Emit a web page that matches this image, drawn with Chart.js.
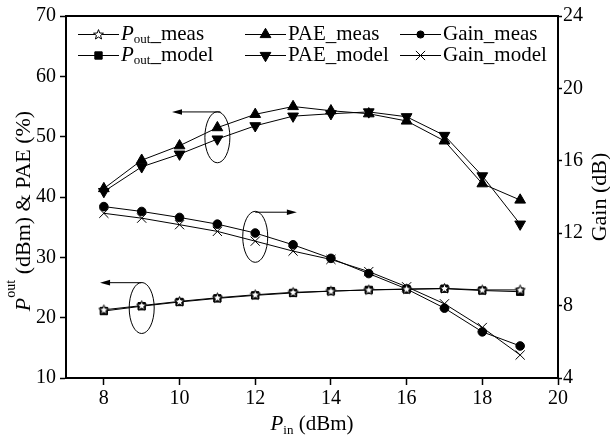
<!DOCTYPE html>
<html>
<head>
<meta charset="utf-8">
<script src="https://cdn.jsdelivr.net/npm/chart.js@4/dist/chart.umd.min.js"></script>
<style>
  body { margin: 0; background: #fff; }
  canvas { display: block; }
</style>
</head>
<body>
<canvas id="chart" width="610" height="441"></canvas>
<script>
// input power (dBm)
const pin = [8, 9, 10, 11, 12, 13, 14, 15, 16, 17, 18, 19];

const poutMeas  = [21.3, 22.0, 22.7, 23.3, 23.8, 24.2, 24.4, 24.6, 24.75, 24.85, 24.6, 24.6];
const poutModel = [21.1, 21.9, 22.6, 23.2, 23.7, 24.1, 24.4, 24.6, 24.7, 24.8, 24.5, 24.3];
const paeMeas   = [41.4, 46.1, 48.5, 51.5, 53.7, 55.0, 54.3, 53.8, 52.6, 49.3, 42.2, 39.5];
const paeModel  = [40.9, 45.0, 47.1, 49.6, 51.8, 53.4, 53.8, 54.1, 53.3, 50.2, 43.5, 35.5];
const gainMeas  = [13.47, 13.2, 12.87, 12.5, 12.01, 11.36, 10.61, 9.77, 8.92, 7.86, 6.55, 5.77];
const gainModel = [13.1, 12.83, 12.47, 12.1, 11.56, 11.01, 10.55, 9.88, 9.04, 8.1, 6.79, 5.27];

const seriesNames = ["P_out_meas", "P_out_model", "PAE_meas", "PAE_model", "Gain_meas", "Gain_model"];

const xTicks = [8, 10, 12, 14, 16, 18, 20];
const yTicks = [10, 20, 30, 40, 50, 60, 70];
const gainTicks = [4, 8, 12, 16, 20, 24];

// ellipse marks around the curves and the arrows pointing at their axis
const rings = [
  { x: 11, y: 49.9, axis: "y" },
  { x: 12, y: 11.8, axis: "y1" },
  { x: 9, y: 21.6, axis: "y" }
];
const arrows = [
  { from: 11.08, to: 9.8, y: 54.1, axis: "y" },
  { from: 12.0, to: 13.1, y: 13.16, axis: "y1" },
  { from: 9.0, to: 7.9, y: 25.8, axis: "y" }
];

const FONT = "'Liberation Serif', 'Times New Roman', serif";

// hollow star marker
function makeStar() {
  let c = document.createElement("canvas");
  c.width = 13;
  c.height = 13;
  let g = c.getContext("2d");
  g.beginPath();
  for (let i = 0; i < 10; i++) {
    let r = i % 2 === 0 ? 5.2 : 2.2;
    let a = -Math.PI / 2 + (i * Math.PI) / 5;
    g.lineTo(6.5 + r * Math.cos(a), 6.8 + r * Math.sin(a));
  }
  g.closePath();
  g.fillStyle = "#fff";
  g.fill();
  g.lineWidth = 1;
  g.strokeStyle = "#000";
  g.stroke();
  return c;
}
const star = makeStar();

function pts(ys) {
  return pin.map((x, i) => ({ x: x, y: ys[i] }));
}

function series(i, ys, axis, style, extra) {
  return Object.assign({
    label: seriesNames[i],
    data: pts(ys),
    yAxisID: axis,
    borderColor: "#000",
    borderWidth: 1,
    backgroundColor: "#000",
    pointBackgroundColor: "#000",
    pointBorderColor: "#000",
    pointBorderWidth: 1,
    pointStyle: style,
    fill: false,
    tension: 0
  }, extra);
}

// draws "P_out_meas" style text with a small shifted "out"/"in"
function richParts(name) {
  if (name.startsWith("P_out")) {
    return [{ t: "P", it: true }, { t: "out", small: true }, { t: name.slice(5) }];
  }
  return [{ t: name }];
}

function drawRich(ctx, parts, x, y, size, shift) {
  let cx = x;
  parts.forEach((p) => {
    let s = p.small ? Math.round(size * 0.62) : size;
    ctx.font = (p.it ? "italic " : "") + s + "px " + FONT;
    ctx.fillText(p.t, cx, p.small ? y + shift : y);
    cx += ctx.measureText(p.t).width;
  });
  return cx - x;
}

function richWidth(ctx, parts, size) {
  let w = 0;
  parts.forEach((p) => {
    let s = p.small ? Math.round(size * 0.62) : size;
    ctx.font = (p.it ? "italic " : "") + s + "px " + FONT;
    w += ctx.measureText(p.t).width;
  });
  return w;
}

const decorations = {
  id: "decorations",
  afterDraw(chart) {
    let ctx = chart.ctx;
    let area = chart.chartArea;
    let xs = chart.scales.x;
    ctx.save();
    ctx.fillStyle = "#000";
    ctx.strokeStyle = "#000";

    // top frame line
    ctx.lineWidth = 2;
    ctx.beginPath();
    ctx.moveTo(area.left - 1, area.top);
    ctx.lineTo(area.right + 1, area.top);
    ctx.stroke();

    // ellipses
    ctx.lineWidth = 1;
    rings.forEach((r) => {
      let px = xs.getPixelForValue(r.x);
      let py = chart.scales[r.axis].getPixelForValue(r.y);
      ctx.beginPath();
      ctx.ellipse(px, py, 12.5, 25.5, 0, 0, Math.PI * 2);
      ctx.stroke();
    });

    // arrows
    arrows.forEach((a) => {
      let x0 = xs.getPixelForValue(a.from);
      let x1 = xs.getPixelForValue(a.to);
      let py = chart.scales[a.axis].getPixelForValue(a.y);
      let dir = x1 > x0 ? 1 : -1;
      ctx.beginPath();
      ctx.moveTo(x0, py);
      ctx.lineTo(x1 - dir * 8, py);
      ctx.stroke();
      ctx.beginPath();
      ctx.moveTo(x1, py);
      ctx.lineTo(x1 - dir * 10, py - 2.8);
      ctx.lineTo(x1 - dir * 10, py + 2.8);
      ctx.closePath();
      ctx.fill();
    });

    // legend, 3 columns x 2 rows
    let cols = [78, 245, 400];
    let rows = [34.5, 55.5];
    let order = [[0, 2, 4], [1, 3, 5]];
    ctx.textBaseline = "alphabetic";
    ctx.textAlign = "left";
    order.forEach((row, ri) => {
      row.forEach((di, ci) => {
        let x = cols[ci];
        let y = rows[ri];
        ctx.lineWidth = 1;
        ctx.beginPath();
        ctx.moveTo(x, y);
        ctx.lineTo(x + 41, y);
        ctx.stroke();
        let el = chart.getDatasetMeta(di).data[0];
        let o = Object.assign({}, el.options);
        o.radius = o.pointStyle === "circle" ? 3.6 : o.radius;
        Chart.helpers.drawPoint(ctx, o, x + 20.5, y);
        ctx.fillStyle = "#000";
        drawRich(ctx, richParts(seriesNames[di]), x + 43, y + 5.5, 21, 3);
      });
    });

    // x axis title
    let xt = [{ t: "P", it: true }, { t: "in", small: true }, { t: " (dBm)" }];
    let w = richWidth(ctx, xt, 21);
    drawRich(ctx, xt, (area.left + area.right) / 2 - w / 2, 430, 21, 4);

    // left axis title
    let lt = [{ t: "P", it: true }, { t: "out", small: true }, { t: " (dBm) & PAE (%)" }];
    let lw = richWidth(ctx, lt, 22);
    ctx.save();
    ctx.translate(30, 211 + lw / 2);
    ctx.rotate(-Math.PI / 2);
    drawRich(ctx, lt, 0, 0, 22, -15);
    ctx.restore();

    // right axis title
    let rt = [{ t: "Gain (dB)" }];
    let rw = richWidth(ctx, rt, 22);
    ctx.save();
    ctx.translate(606, 197 + rw / 2);
    ctx.rotate(-Math.PI / 2);
    drawRich(ctx, rt, 0, 0, 22, 0);
    ctx.restore();

    ctx.restore();
  }
};

function fixedTicks(list) {
  return (scale) => {
    scale.ticks = list.map((v) => ({ value: v }));
  };
}

let tickFont = { family: FONT, size: 20 };

new Chart(document.getElementById("chart"), {
  type: "line",
  data: {
    datasets: [
      series(0, poutMeas, "y", star, { pointRadius: 6 }),
      series(1, poutModel, "y", "rect", { pointRadius: 5.2 }),
      series(2, paeMeas, "y", "triangle", { pointRadius: 6.2 }),
      series(3, paeModel, "y", "triangle", { pointRadius: 6.2, pointRotation: 180 }),
      series(4, gainMeas, "y1", "circle", { pointRadius: 4.3 }),
      series(5, gainModel, "y1", "crossRot", { pointRadius: 6.5 })
    ]
  },
  options: {
    responsive: false,
    animation: false,
    devicePixelRatio: 1,
    layout: { padding: { top: 12, left: 0, right: 0, bottom: 0 } },
    plugins: {
      legend: { display: false },
      tooltip: { enabled: false }
    },
    scales: {
      x: {
        type: "linear",
        min: 7,
        max: 20,
        afterBuildTicks: fixedTicks(xTicks),
        afterFit: (s) => { s.height = 63; },
        ticks: { font: tickFont, color: "#000", padding: 2 },
        grid: { drawOnChartArea: false, tickLength: 7, color: "#000", tickWidth: 1.5 },
        border: { color: "#000", width: 2 }
      },
      y: {
        position: "left",
        min: 10,
        max: 70,
        afterBuildTicks: fixedTicks(yTicks),
        afterFit: (s) => { s.width = 66; },
        ticks: { font: tickFont, color: "#000", padding: 4 },
        grid: { drawOnChartArea: false, tickLength: 6, color: "#000", tickWidth: 1.5 },
        border: { color: "#000", width: 2 }
      },
      y1: {
        position: "right",
        min: 4,
        max: 24,
        afterBuildTicks: fixedTicks(gainTicks),
        afterFit: (s) => { s.width = 52; },
        ticks: { font: tickFont, color: "#000", padding: 1 },
        grid: { drawOnChartArea: false, tickLength: 4, color: "#000", tickWidth: 1.5 },
        border: { color: "#000", width: 2 }
      }
    }
  },
  plugins: [decorations]
});
</script>
</body>
</html>
